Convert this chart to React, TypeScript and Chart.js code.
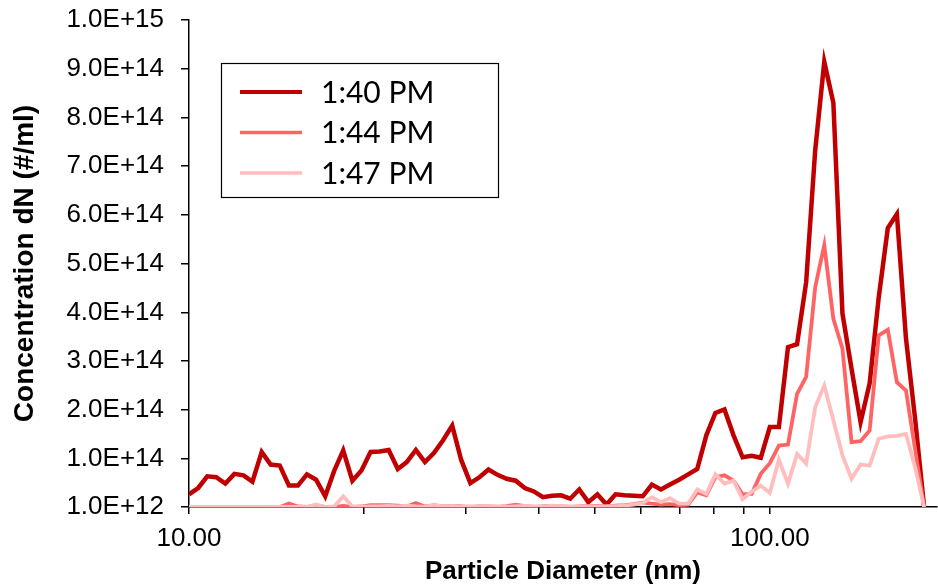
import React, { useEffect, useRef } from "react";
import { Chart, registerables } from "chart.js";

Chart.register(...registerables);

// Particle diameters (nm), SMPS channels
const DIAMETERS = [
  10.0, 10.37, 10.75, 11.14, 11.55, 11.97, 12.41, 12.86, 13.34, 13.82,
  14.33, 14.86, 15.4, 15.96, 16.55, 17.16, 17.78, 18.43, 19.11, 19.81,
  20.54, 21.29, 22.07, 22.88, 23.71, 24.58, 25.48, 26.42, 27.38, 28.39,
  29.43, 30.51, 31.62, 32.78, 33.98, 35.23, 36.52, 37.85, 39.24, 40.68,
  42.17, 43.71, 45.32, 46.98, 48.7, 50.48, 52.33, 54.25, 56.23, 58.29,
  60.43, 62.65, 64.94, 67.32, 69.79, 72.35, 74.99, 77.74, 80.59, 83.54,
  86.6, 89.77, 93.06, 96.47, 100.0, 103.66, 107.46, 111.4, 115.48, 119.71,
  124.09, 128.64, 133.35, 138.24, 143.3, 148.55, 153.99, 159.63, 165.48, 171.54,
  177.83, 184.34,
];

const SERIES_LABELS = ["1:40 PM", "1:44 PM", "1:47 PM"];

const CONC_1340 = [
  0.27e14, 0.4e14, 0.64e14, 0.62e14, 0.49e14, 0.69e14, 0.66e14, 0.53e14, 1.14e14, 0.88e14,
  0.86e14, 0.45e14, 0.45e14, 0.68e14, 0.57e14, 0.23e14, 0.75e14, 1.17e14, 0.55e14, 0.76e14,
  1.14e14, 1.15e14, 1.18e14, 0.79e14, 0.93e14, 1.18e14, 0.93e14, 1.12e14, 1.38e14, 1.68e14,
  0.97e14, 0.5e14, 0.62e14, 0.78e14, 0.67e14, 0.59e14, 0.55e14, 0.4e14, 0.33e14, 0.21e14,
  0.24e14, 0.25e14, 0.18e14, 0.37e14, 0.11e14, 0.27e14, 0.06e14, 0.27e14, 0.25e14, 0.24e14,
  0.23e14, 0.47e14, 0.37e14, 0.47e14, 0.57e14, 0.68e14, 0.79e14, 1.48e14, 1.94e14, 2.01e14,
  1.48e14, 1.03e14, 1.06e14, 1.02e14, 1.65e14, 1.65e14, 3.29e14, 3.35e14, 4.62e14, 7.33e14,
  9.14e14, 8.3e14, 3.98e14, 2.85e14, 1.75e14, 2.55e14, 4.31e14, 5.73e14, 6.02e14, 3.47e14,
  1.83e14, 0.01e14,
];

const CONC_1344 = [
  0.01e14, 0.01e14, 0.01e14, 0.01e14, 0.01e14, 0.01e14, 0.01e14, 0.01e14, 0.01e14, 0.01e14,
  0.01e14, 0.08e14, 0.02e14, 0.01e14, 0.03e14, 0.01e14, 0.01e14, 0.03e14, 0.01e14, 0.02e14,
  0.05e14, 0.05e14, 0.05e14, 0.04e14, 0.02e14, 0.09e14, 0.02e14, 0.04e14, 0.02e14, 0.03e14,
  0.02e14, 0.01e14, 0.02e14, 0.02e14, 0.01e14, 0.03e14, 0.06e14, 0.03e14, 0.01e14, 0.02e14,
  0.03e14, 0.02e14, 0.01e14, 0.02e14, 0.03e14, 0.03e14, 0.02e14, 0.04e14, 0.05e14, 0.07e14,
  0.1e14, 0.08e14, 0.06e14, 0.07e14, 0.05e14, 0.06e14, 0.31e14, 0.25e14, 0.62e14, 0.66e14,
  0.55e14, 0.27e14, 0.28e14, 0.69e14, 0.91e14, 1.27e14, 1.29e14, 2.33e14, 2.68e14, 4.52e14,
  5.38e14, 3.87e14, 3.26e14, 1.34e14, 1.36e14, 1.58e14, 3.53e14, 3.65e14, 2.57e14, 2.4e14,
  1.2e14, 0.01e14,
];

const CONC_1347 = [
  0.01e14, 0.01e14, 0.01e14, 0.01e14, 0.01e14, 0.01e14, 0.01e14, 0.01e14, 0.01e14, 0.01e14,
  0.01e14, 0.01e14, 0.01e14, 0.01e14, 0.06e14, 0.01e14, 0.02e14, 0.23e14, 0.02e14, 0.01e14,
  0.02e14, 0.02e14, 0.03e14, 0.02e14, 0.04e14, 0.02e14, 0.01e14, 0.06e14, 0.02e14, 0.03e14,
  0.01e14, 0.02e14, 0.01e14, 0.03e14, 0.02e14, 0.01e14, 0.02e14, 0.03e14, 0.02e14, 0.01e14,
  0.04e14, 0.03e14, 0.02e14, 0.01e14, 0.02e14, 0.01e14, 0.02e14, 0.03e14, 0.04e14, 0.06e14,
  0.09e14, 0.21e14, 0.11e14, 0.19e14, 0.08e14, 0.08e14, 0.37e14, 0.28e14, 0.68e14, 0.49e14,
  0.55e14, 0.17e14, 0.32e14, 0.45e14, 0.3e14, 0.98e14, 0.49e14, 1.1e14, 0.9e14, 2.06e14,
  2.5e14, 1.79e14, 1.07e14, 0.59e14, 0.88e14, 0.86e14, 1.41e14, 1.46e14, 1.47e14, 1.51e14,
  0.83e14, 0.01e14,
];

const Y_TICKS = [1e12, 1e14, 2e14, 3e14, 4e14, 5e14, 6e14, 7e14, 8e14, 9e14, 1e15];
const X_TICKS = [10, 20, 30, 40, 50, 60, 70, 80, 90, 100];
const X_LABELED = [10, 100];

const AXIS_FONT = "'Liberation Sans', Arial, sans-serif";

const boxLegend = {
  id: "boxLegend",
  afterDraw(chart: any) {
    const ctx = chart.ctx;
    const { left, top } = chart.chartArea;
    const bx = left + 32;
    const by = top + 43;
    const bw = 277;
    const bh = 134;
    ctx.save();
    ctx.fillStyle = "#ffffff";
    ctx.fillRect(bx, by, bw, bh);
    ctx.strokeStyle = "#000000";
    ctx.lineWidth = 1.2;
    ctx.strokeRect(bx + 0.5, by + 0.5, bw, bh);
    chart.data.datasets.forEach((ds: any, i: number) => {
      const y = by + 29 + i * 40.5;
      ctx.strokeStyle = ds.borderColor;
      ctx.lineWidth = ds.borderWidth - 0.5;
      ctx.beginPath();
      ctx.moveTo(bx + 19, y);
      ctx.lineTo(bx + 81, y);
      ctx.stroke();
      ctx.fillStyle = "#000000";
      ctx.font = "30px Lato, 'Open Sans', sans-serif";
      ctx.textBaseline = "middle";
      ctx.textAlign = "left";
      ctx.fillText(ds.label, bx + 100, y + 1);
    });
    ctx.restore();
  },
};

export default function App() {
  const ref = useRef<HTMLCanvasElement | null>(null);

  useEffect(() => {
    if (!ref.current) return;
    const mk = (vals: number[]) => DIAMETERS.map((d, i) => ({ x: d, y: vals[i] }));
    const chart = new Chart(ref.current, {
      type: "line",
      data: {
        datasets: [
          {
            label: SERIES_LABELS[0],
            data: mk(CONC_1340),
            borderColor: "#C00000",
            borderWidth: 4.5,
            pointRadius: 0,
            tension: 0,
            fill: false,
            order: 3,
          },
          {
            label: SERIES_LABELS[1],
            data: mk(CONC_1344),
            borderColor: "#FF6464",
            borderWidth: 3.8,
            pointRadius: 0,
            tension: 0,
            fill: false,
            order: 2,
          },
          {
            label: SERIES_LABELS[2],
            data: mk(CONC_1347),
            borderColor: "#FFBDBD",
            borderWidth: 3.8,
            pointRadius: 0,
            tension: 0,
            fill: false,
            order: 1,
          },
        ],
      },
      options: {
        animation: false,
        responsive: false,
        maintainAspectRatio: false,
        layout: { padding: { top: 20, right: 1, bottom: 0, left: 0 } },
        plugins: {
          legend: { display: false },
          tooltip: { enabled: false },
        },
        scales: {
          x: {
            type: "logarithmic",
            min: 10,
            max: 194,
            afterFit: (s: any) => {
              s.height = 80;
            },
            afterBuildTicks: (s: any) => {
              s.ticks = X_TICKS.map((v) => ({ value: v, major: X_LABELED.includes(v) }));
            },
            ticks: {
              autoSkip: false,
              maxRotation: 0,
              padding: 9,
              color: "#000",
              font: { family: AXIS_FONT, size: 26 },
              callback: (v: any) => (X_LABELED.includes(Number(v)) ? Number(v).toFixed(2) : ""),
            },
            grid: {
              drawOnChartArea: false,
              drawTicks: true,
              tickLength: 7,
              color: "#000",
              lineWidth: 1.5,
            },
            border: { display: true, color: "#000", width: 1.5 },
            title: {
              display: true,
              text: "Particle Diameter (nm)",
              color: "#000",
              font: { family: AXIS_FONT, size: 26, weight: "bold" },
              padding: { top: 0, bottom: 0 },
            },
          },
          y: {
            type: "linear",
            min: 1e12,
            max: 1e15,
            afterFit: (s: any) => {
              s.width = 189;
              s.paddingTop = 0;
              s.paddingBottom = 0;
            },
            afterBuildTicks: (s: any) => {
              s.ticks = Y_TICKS.map((v) => ({ value: v }));
            },
            ticks: {
              autoSkip: false,
              padding: 17,
              color: "#000",
              font: { family: AXIS_FONT, size: 26 },
              callback: (v: any) => Number(v).toExponential(1).toUpperCase(),
            },
            grid: {
              drawOnChartArea: false,
              drawTicks: true,
              tickLength: 8,
              color: "#000",
              lineWidth: 1.5,
            },
            border: { display: true, color: "#000", width: 1.5 },
            title: {
              display: true,
              text: "Concentration dN (#/ml)",
              color: "#000",
              font: { family: AXIS_FONT, size: 28, weight: "bold" },
              padding: { top: 8, bottom: 0 },
            },
          },
        },
      },
      plugins: [boxLegend],
    });
    return () => chart.destroy();
  }, []);

  return (
    <div style={{ position: "absolute", left: 0, top: 0, width: 938, height: 587, background: "#fff" }}>
      <canvas ref={ref} width={938} height={587} style={{ display: "block", width: "938px", height: "587px" }} />
    </div>
  );
}
